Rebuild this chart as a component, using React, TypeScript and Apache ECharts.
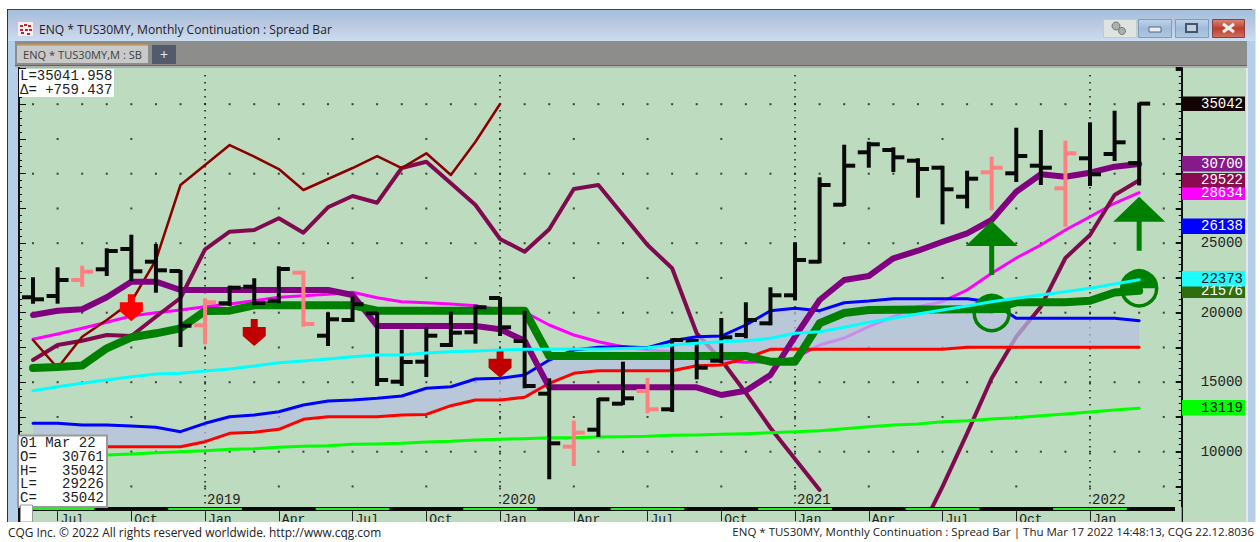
import React, { useEffect, useRef } from "react";
import * as echarts from "echarts";

// Month index 0 = Jun 2018 ... index 45 = Mar 2022
const barOpen = [21107,21201,22352,23122,24582,23669,23000,19093,20676,21870,20863,22877,18345,19474,19956,15036,16475,17676,18590,21057,17964,14173,10360,11583,13453,14367,13050,17964,16547,18395,19237,21251,23669,27769,31539,31704,30935,30431,28345,30100,30028,30575,28949,31107,31416,30761];
const barHigh = [22475,23194,23309,24561,25539,24870,23000,20964,21870,22402,23266,22949,19956,21107,19956,18705,18877,20000,20503,21057,20072,15208,12158,13791,16403,15230,18086,18036,19547,20676,21755,24992,29668,32014,32230,31827,31035,30503,30143,31150,33236,33071,32301,33625,34459,35042];
const barLow = [20719,20719,21942,22712,22352,21510,17604,17798,20553,20604,20748,19064,17676,19403,14798,14798,15446,17604,17842,18395,14633,8086,9043,11129,13432,12834,12928,15280,16431,18230,19165,20964,23625,27747,30503,30194,28345,26431,27582,27438,29475,29258,26258,29186,30985,29226];
const barClose = [20964,22352,22949,24438,22978,23050,19064,20748,21798,20698,23143,19187,19525,20604,15158,16453,18345,18561,20388,18949,14726,10604,11367,13770,13842,13050,18036,16043,18230,19474,21251,23791,29186,30575,32115,31179,30337,28877,29640,30431,31272,30431,31467,29957,32258,35042];
const salmonBars = [2, 7, 11, 22, 25, 39, 42];

const laggingRed = [18036,16021,18273,19474,20791,23791,29186,30625,32064,31222,30337,28827,29618,30409,31272,30409,31467,29906,32301,35014];
const plumLine = [16597,17676,17985,18395,18323,19712,21057,24561,25827,25949,26791,25755,27582,28395,27913,30409,30863,29309,27747,25302,24388,26000,28899,29186,27028,24870,23194,18518,16597,14223,11705,9475,7250,null,null,null,3935,7482,11324,15280,18273,20431,23935,25589,28467,29522];
const purpleLine = [19834,20144,20244,21107,22230,22230,21633,21633,21633,21633,21633,21633,21633,21273,19043,19043,19043,19043,19043,18805,17985,14633,14633,14633,14633,14633,14633,14633,14079,14388,15518,18273,20913,22352,22640,23913,24460,25107,25712,26669,28704,29957,29784,30071,30503,30700];
const greenLine = [16021,16093,16201,17439,18230,18518,18877,20122,20144,20532,20532,20532,20532,20532,20144,20144,20144,20144,20144,20144,20144,16885,16885,16885,16885,16885,16885,16885,16885,16885,16475,16475,19237,19978,20194,20215,20230,20230,20244,20244,20748,20748,20748,20863,21450,21576];
const magentaLine = [18086,18467,18877,19309,19762,20000,20194,20431,20626,20863,21107,21223,21323,21467,21079,20791,20719,20626,20503,20194,20050,19115,18395,17913,17554,17316,17172,16813,16547,16431,16475,16741,17676,18180,18993,19712,20431,20791,21633,22834,23935,24870,25949,26906,27870,28634];
const blueLine = [12043,12043,11921,11921,11849,11755,11439,12043,12518,12640,12878,13360,13647,13719,13842,14007,14561,14676,15230,15280,15518,16597,17316,17511,17554,17482,17985,18273,18323,19115,20144,20316,20144,20719,20841,21007,21007,21007,21007,20770,19597,19597,19597,19597,19597,19424];
const redLine = [10360,10360,10360,10360,10360,10360,10360,10719,11324,11396,11611,12331,12518,12518,12518,12640,12680,13309,13719,13719,13914,14921,15640,15827,15827,15827,15827,16187,16237,16719,17367,17367,17367,17367,17367,17367,17367,17367,17511,17511,17511,17511,17511,17511,17511,17511];
const cyanLine = [14388,14676,14921,15158,15396,15590,15640,15806,15950,16165,16403,16525,16669,16834,16957,16957,17101,17194,17244,17316,17367,17367,17388,17388,17424,17482,17676,17798,17913,17985,18158,18518,18633,18949,19309,19597,19906,20194,20482,20791,21036,21273,21510,21755,22064,22373];
const limeLine = [9619,9655,9691,9763,9835,9928,10000,10072,10173,10216,10317,10388,10432,10532,10554,10604,10698,10748,10842,10892,10935,11007,11007,11058,11079,11108,11180,11201,11252,11295,11367,11439,11511,11655,11799,11921,11993,12158,12230,12352,12446,12590,12712,12856,13000,13119];

const quarterIdx = [1,4,7,10,13,16,19,22,25,28,31,34,37,40,43];
const quarterNames = ["Jul","Oct","Jan","Apr","Jul","Oct","Jan","Apr","Jul","Oct","Jan","Apr","Jul","Oct","Jan"];
const yearIdx = [7,19,31,43];
const yearNames = ["2019","2020","2021","2022"];
const bandCenters = [1,7,13,19,25,31,37,43];
const monthlyRows = [35000,30000,25000,20000,15000,10000];
const quarterRows = [32500,27500,22500,17500,12500,7500];
const yTickLabels = [10000,15000,20000,25000];

const arrowsDown = [[4,21323,"#ff0000"],[9,19547,"#c00000"],[19,17266,"#c00000"]];
const arrowsUp = [[39,26597],[45,28345]];
const circles = [[39,19978],[45,21755]];

const tags = [
  ["28634", 185.5, 200, "#ff00ff", "#ffffff"],
  ["35042", 96.5, 111, "#120404", "#ffffff"],
  ["30700", 156, 171.5, "#861a8a", "#ffffff"],
  ["29522", 173, 187.5, "#8b0a50", "#ffffff"],
  ["26138", 218.5, 234, "#0000ff", "#ffffff"],
  ["21576", 283, 298, "#2f6e0c", "#ffffff"],
  ["22373", 271, 286.5, "#1ffcfc", "#111111"],
  ["13119", 400, 415.5, "#00ff00", "#111111"],
];

const MONO = "14px 'Liberation Mono'";
const UI = "'Open Sans'";
const XMIN = -0.57, XMAX = 46.73;
const YMIN = 5000, YMAX = 37604;

const lineSeries = (name: string, arr: any[], color: string, width: number, z: number) => ({
  name, type: "line", data: arr.map((v, i) => [i, v]), symbol: "none", showSymbol: false, silent: true,
  lineStyle: { color, width, cap: "round", join: "round" }, z, connectNulls: false, xAxisIndex: 0, yAxisIndex: 0,
});

const text = (t: string, x: number, y: number, font: string, fill: string, align = "left", z = 100) => ({
  type: "text", x, y, z, silent: true,
  style: { text: t, font, fill, align, verticalAlign: "middle" },
});
const rect = (x: number, y: number, width: number, height: number, fill: any, z = 100, stroke?: string, lineWidth = 1) => ({
  type: "rect", z, silent: true, shape: { x, y, width, height },
  style: { fill, stroke: stroke || undefined, lineWidth },
});
const grad = (stops: string[]) => ({
  type: "linear", x: 0, y: 0, x2: 0, y2: 1,
  colorStops: stops.map((c, i) => ({ offset: i / (stops.length - 1), color: c })),
});
const seg = (x1: number, y1: number, x2: number, y2: number, stroke: string, lineWidth: number, z = 101) => ({
  type: "line", z, silent: true, shape: { x1, y1, x2, y2 }, style: { stroke, lineWidth },
});

export default function App() {
  const ref = useRef<HTMLDivElement>(null);
  useEffect(() => {
    document.body.style.margin = "0";
    const chart = echarts.init(ref.current!, null, { renderer: "svg" });

    const dots: number[][] = [];
    monthlyRows.forEach((v) => { for (let i = 0; i <= 46; i++) dots.push([i, v]); });
    quarterRows.forEach((v) => { for (let i = 1; i <= 46; i += 3) dots.push([i, v]); });

    const barData = barOpen.map((o, i) => [i, o, barHigh[i], barLow[i], barClose[i]]);

    const option: any = {
      animation: false,
      backgroundColor: "#ffffff",
      grid: { left: 19, top: 68, width: 1162.7, height: 453.2, containLabel: false },
      tooltip: { show: false },
      xAxis: {
        type: "value", min: XMIN, max: XMAX, position: "bottom", z: 30,
        axisLine: { show: false },
        splitLine: { show: false },
        axisTick: { show: true, inside: true, length: 10, customValues: quarterIdx, lineStyle: { color: "#222", width: 1 } },
        axisLabel: {
          show: true, inside: true, customValues: quarterIdx, margin: 8, verticalAlign: "top", align: "left", lineHeight: 13,
          padding: [0, 0, 0, 3], color: "#222", fontFamily: "Liberation Mono", fontSize: 13,
          formatter: (v: number) => quarterNames[quarterIdx.indexOf(Math.round(v))] || "",
        },
      },
      yAxis: [
        {
          type: "value", position: "left", min: YMIN, max: YMAX, interval: 2500, z: 20,
          axisLine: { show: true, onZero: false, lineStyle: { color: "#111", width: 2 } },
          axisTick: { show: true, inside: true, length: 7, lineStyle: { color: "#111", width: 1 } },
          minorTick: { show: true, splitNumber: 5, length: 3, lineStyle: { color: "#111", width: 1 } },
          splitLine: { show: false }, axisLabel: { show: false },
        },
        {
          type: "value", position: "right", min: YMIN, max: YMAX, interval: 2500, z: 20,
          axisLine: { show: true, onZero: false, lineStyle: { color: "#111", width: 2 } },
          axisTick: { show: true, inside: true, length: 6, lineStyle: { color: "#111", width: 2 } },
          minorTick: { show: true, splitNumber: 5, length: 3, lineStyle: { color: "#111", width: 1 } },
          splitLine: { show: false },
          axisLabel: {
            show: true, inside: false, margin: 61, align: "right", color: "#222",
            fontFamily: "Liberation Mono", fontSize: 14,
            formatter: (v: number) => (yTickLabels.includes(v) ? String(v) : ""),
          },
        },
      ],
      series: [
        { type: "scatter", name: "grid", data: dots, symbol: "rect", symbolSize: 2, silent: true, z: 1, itemStyle: { color: "#1a1a1a" } },
        {
          type: "custom", name: "yearLines", data: yearIdx.map((i) => [i]), silent: true, z: 1,
          renderItem: (_p: any, api: any) => {
            const a = api.coord([api.value(0), 37100]);
            const b = api.coord([api.value(0), 5950]);
            return { type: "line", shape: { x1: a[0], y1: a[1], x2: b[0], y2: b[1] }, style: { stroke: "#1a1a1a", lineWidth: 1.5, lineDash: [1.5, 5.5] } };
          },
        },
        lineSeries("magenta", magentaLine, "#ff00ff", 3, 2),
        lineSeries("plum", plumLine, "#800a50", 4, 2),
        {
          type: "custom", name: "cloud", data: [[0, 0]], silent: true, z: 3,
          renderItem: (_p: any, api: any) => {
            const pts: number[][] = [];
            blueLine.forEach((v, i) => pts.push(api.coord([i, v])));
            for (let i = redLine.length - 1; i >= 0; i--) pts.push(api.coord([i, redLine[i]]));
            return { type: "polygon", shape: { points: pts }, style: { fill: "rgba(182,192,227,0.72)" } };
          },
        },
        lineSeries("laggingRed", laggingRed, "#8a0000", 2.5, 4),
        lineSeries("red", redLine, "#ff0000", 3, 4),
        lineSeries("blue", blueLine, "#0000ff", 3, 4),
        lineSeries("lime", limeLine, "#00ff00", 3, 4),
        lineSeries("purple", purpleLine, "#800080", 6, 5),
        lineSeries("green", greenLine, "#008000", 8, 6),
        {
          type: "custom", name: "circles", data: circles, silent: true, z: 6,
          renderItem: (_p: any, api: any) => {
            const [x, y] = api.coord([api.value(0), api.value(1)]);
            return {
              type: "group",
              children: [
                { type: "sector", shape: { cx: x, cy: y, r: 18, r0: 0, startAngle: Math.PI, endAngle: 2 * Math.PI }, style: { fill: "#008000" } },
                { type: "circle", shape: { cx: x, cy: y, r: 17.5 }, style: { fill: "none", stroke: "#008000", lineWidth: 3.5 } },
              ],
            };
          },
        },
        {
          type: "custom", name: "arrowsDown", data: arrowsDown.map((a) => [a[0], a[1]]), silent: true, z: 6,
          renderItem: (p: any, api: any) => {
            const [x, y] = api.coord([api.value(0), api.value(1)]);
            const rel = [[-3.5,0],[3.5,0],[3.5,8],[11.5,8],[11.5,17],[0,27],[-11.5,17],[-11.5,8],[-3.5,8]];
            return { type: "polygon", shape: { points: rel.map((q) => [x + q[0], y + q[1]]) }, style: { fill: arrowsDown[p.dataIndex][2] } };
          },
        },
        {
          type: "custom", name: "arrowsUp", data: arrowsUp, silent: true, z: 6,
          renderItem: (_p: any, api: any) => {
            const [x, y] = api.coord([api.value(0), api.value(1)]);
            const rel = [[0,0],[26,25],[2.5,25],[2.5,54],[-2.5,54],[-2.5,25],[-26,25]];
            return { type: "polygon", shape: { points: rel.map((q) => [x + q[0], y + q[1]]) }, style: { fill: "#008000" } };
          },
        },
        {
          type: "custom", name: "bars", data: barData, silent: true, z: 7,
          renderItem: (p: any, api: any) => {
            const i = api.value(0);
            const [x, yo] = api.coord([i, api.value(1)]);
            const yh = api.coord([i, api.value(2)])[1];
            const yl = api.coord([i, api.value(3)])[1];
            const yc = api.coord([i, api.value(4)])[1];
            const fill = salmonBars.includes(p.dataIndex) ? "#ff8080" : "#0a0a0a";
            return {
              type: "group",
              children: [
                { type: "rect", shape: { x: x - 2, y: yh - 1, width: 4, height: yl - yh + 2 }, style: { fill } },
                { type: "rect", shape: { x: x - 11, y: yo - 2, width: 11, height: 4 }, style: { fill } },
                { type: "rect", shape: { x, y: yc - 2, width: 11, height: 4 }, style: { fill } },
              ],
            };
          },
        },
        lineSeries("cyan", cyanLine, "#00ffff", 3, 8),
        {
          type: "custom", name: "quarterBands", data: bandCenters.map((c) => [c]), silent: true, z: 26,
          renderItem: (_p: any, api: any) => {
            const c = api.value(0);
            const a = api.coord([Math.max(0, c - 1.5), 5000]);
            const b = api.coord([c + 1.5, 5000]);
            return { type: "rect", shape: { x: a[0], y: 508, width: b[0] - a[0], height: 2 }, style: { fill: "#22ee22" } };
          },
        },
        {
          type: "custom", name: "yearLabels", data: yearIdx.map((i) => [i, 6525]), silent: true, z: 27,
          renderItem: (p: any, api: any) => {
            const [x, y] = api.coord([api.value(0), api.value(1)]);
            return { type: "text", x: x + 2, y, style: { text: yearNames[p.dataIndex], font: MONO, fill: "#222", align: "left", verticalAlign: "middle" } };
          },
        },
      ],
      graphic: {
        elements: [
          // window chrome behind the plot
          rect(7, 9, 1248.5, 513, "#b6cee8", -20),
          seg(7, 9.5, 1252, 9.5, "#3c4a3c", 1, -19),
          seg(7.5, 9, 7.5, 522, "#333333", 1, -19),
          rect(8, 10, 1247, 31, grad(["#a4c0dc", "#bcc9e2", "#cbddef"]), -19),
          rect(15, 41, 1232, 24, "#8d8d8b", -18),
          rect(15, 65, 1232, 3, "#b0b0ae", -18),
          rect(15, 65, 1232, 1, "#666666", -18),
          rect(19, 68, 1227, 454, "#bddbbf", -17),
          rect(1246, 68, 2, 454, "#e4e8ea", -17),
          // lower strip over the plot
          rect(19, 507, 1162.7, 15, "#bddbbf", 25),
          rect(19, 507, 1156, 4, "#0a0a0a", 25),
          rect(18, 507, 2, 15, "#111111", 25),
          // app icon and title
          rect(18, 22, 15, 14, "#f4f0f0", 50),
          ...[[20,25],[24,24],[28,25],[20,29],[25,29],[29,29],[21,32],[27,33]].map((q) => rect(q[0], q[1], 3, 2, "#cc2030", 51)),
          text("ENQ * TUS30MY, Monthly Continuation : Spread Bar", 39, 29, `12.1px ${UI}`, "#222222"),
          // tabs
          rect(17, 45, 131, 18, "#c9c9c9", 50),
          rect(17, 44.5, 131, 1.5, "#e8a040", 51),
          text("ENQ * TUS30MY,M : SB", 23, 54.5, `11.1px ${UI}`, "#404040"),
          rect(152, 45, 24, 19, "#525a6c", 50),
          text("+", 164, 54, `14px ${UI}`, "#e8e8e8", "center"),
          // window buttons
          rect(1103.5, 19.5, 33, 18, "#dfe4e2", 50, "#c4cac8"),
          { type: "circle", z: 51, silent: true, shape: { cx: 1116, cy: 26, r: 4 }, style: { fill: "#aab0b0", stroke: "#777", lineWidth: 1 } },
          { type: "circle", z: 51, silent: true, shape: { cx: 1122, cy: 31, r: 3.5 }, style: { fill: "#aab0b0", stroke: "#777", lineWidth: 1 } },
          rect(1138.5, 19.5, 33, 18, grad(["#bed4ea", "#9ebcda", "#b0c8e0"]), 50, "#7c9cc0"),
          rect(1149, 27, 12, 5, "#e8eef4", 51, "#556677"),
          rect(1175.5, 19.5, 33, 18, grad(["#bed4ea", "#9ebcda", "#b0c8e0"]), 50, "#7c9cc0"),
          rect(1186, 24, 11, 8, "#c0d0e0", 51, "#445566", 2),
          rect(1212.5, 19.5, 32, 18, grad(["#d88878", "#bb4030", "#d07060"]), 50, "#8a4040"),
          seg(1223, 24, 1234, 32, "#f0f0f0", 3),
          seg(1234, 24, 1223, 32, "#f0f0f0", 3),
          // value tags
          ...tags.map((t) => rect(1182, t[1] as number, 63, (t[2] as number) - (t[1] as number), t[3], 60)),
          ...tags.flatMap((t, i) => [
            { ...text(t[0] as string, 1243, ((t[1] as number) + (t[2] as number)) / 2, MONO, t[4] as string, "right", 61 + i) },
          ]),
          // read-outs
          rect(19, 69, 95, 28, "#ffffff", 70),
          text("L=35041.958", 20, 76, MONO, "#222"),
          text("Δ= +759.437", 20, 90, MONO, "#222"),
          rect(18, 435.5, 89, 71.5, "#ffffff", 70, "#999999", 2),
          text("01 Mar 22", 20, 443, MONO, "#222"),
          text("O=   30761", 20, 456.5, MONO, "#222"),
          text("H=   35042", 20, 470.5, MONO, "#222"),
          text("L=   29226", 20, 484, MONO, "#222"),
          text("C=   35042", 20, 498, MONO, "#222"),
          rect(20.5, 505, 12, 17, "#ffffff", 71, "#999999", 1),
          // footer
          rect(0, 522, 1260, 20, "#ffffff", 90),
          text("CQG Inc. © 2022 All rights reserved worldwide. http://www.cqg.com", 8, 531.5, `11.9px ${UI}`, "#222222"),
          text("ENQ * TUS30MY, Monthly Continuation : Spread Bar | Thu Mar 17 2022 14:48:13, CQG 22.12.8036", 1254, 531.5, `11.5px ${UI}`, "#222222", "right"),
        ],
      },
    };
    chart.setOption(option);
    return () => chart.dispose();
  }, []);
  return <div ref={ref} style={{ width: 1260, height: 542 }} />;
}
